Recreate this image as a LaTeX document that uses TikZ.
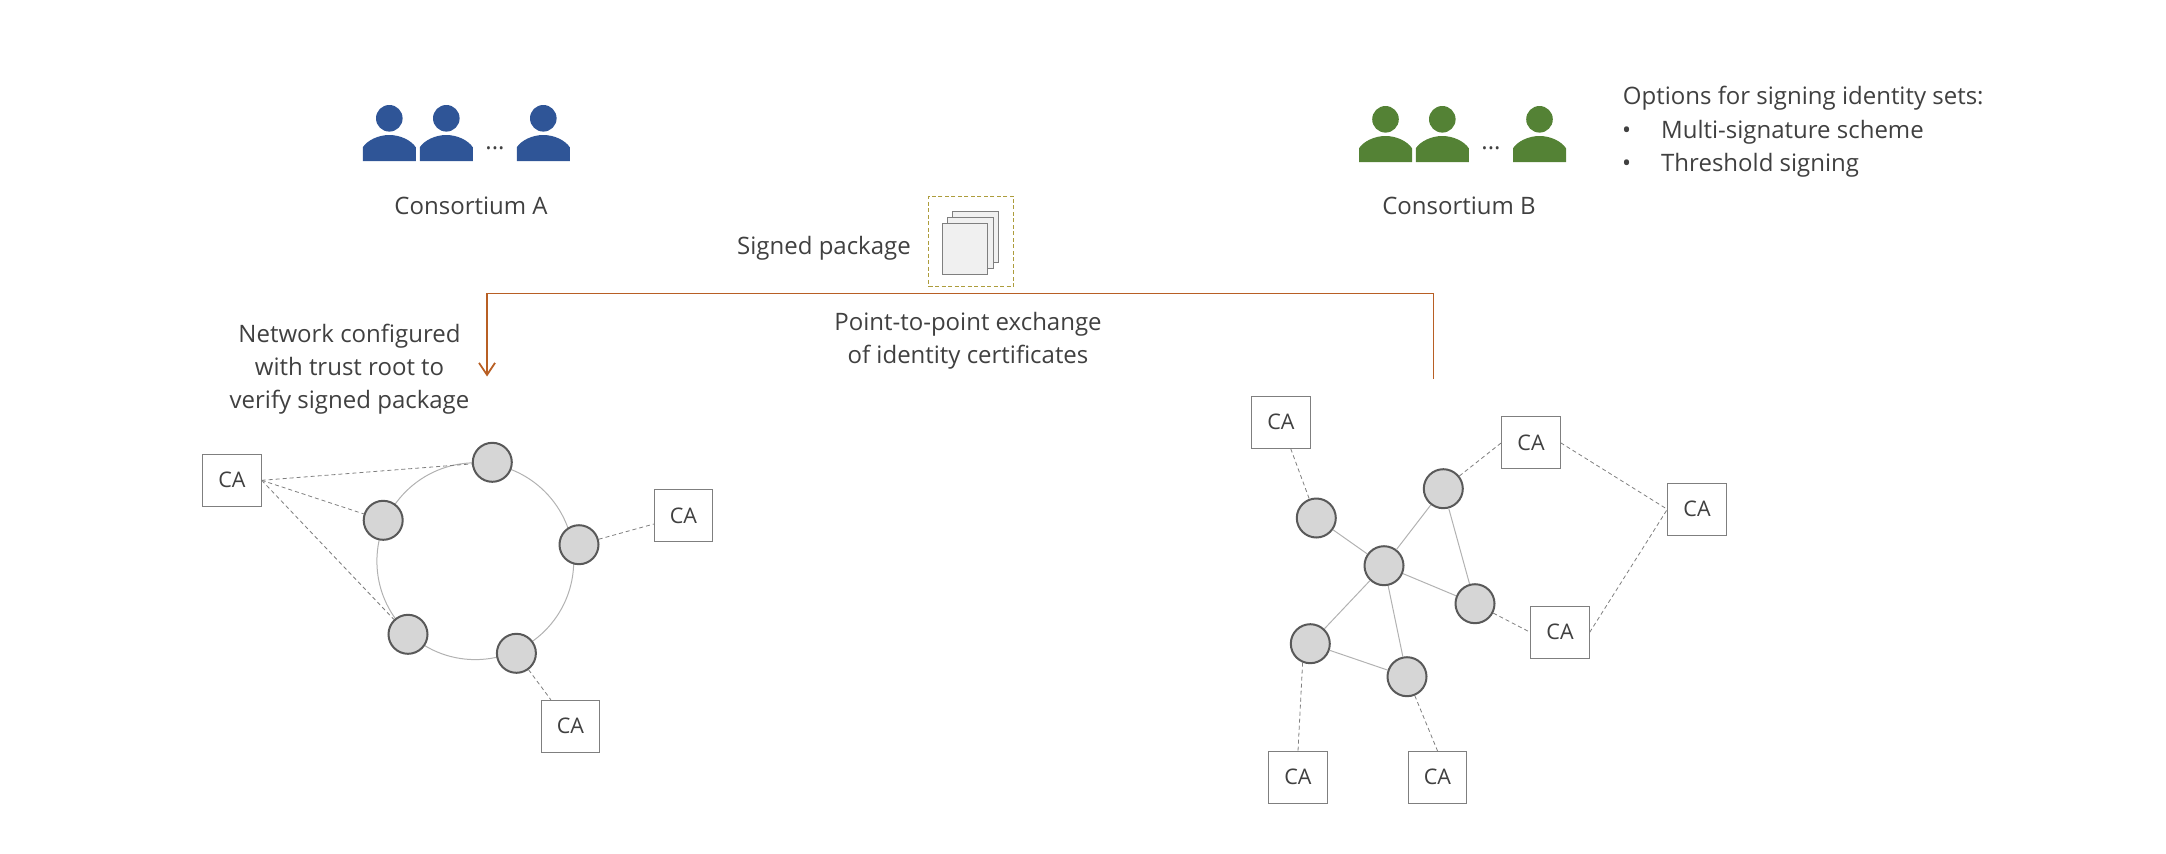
\documentclass[tikz,border=0pt]{standalone}
\usepackage{fontspec}
\usetikzlibrary{arrows.meta}
\setmainfont{Open Sans}
\definecolor{bluep}{HTML}{2F5597}
\definecolor{greenp}{HTML}{548235}
\definecolor{txt}{HTML}{404040}
\definecolor{arrowc}{HTML}{B85F24}
\definecolor{boxc}{HTML}{7F7F7F}
\definecolor{dashc}{HTML}{AD9C3C}
\tikzset{x=1pt,y=-1pt,
 lab/.style={text=txt,font=\fontsize{24}{33}\selectfont,align=center,inner sep=0pt},
 ca/.style={draw=boxc,fill=white,line width=.9pt,minimum width=58.5pt,minimum height=52pt,inner sep=0pt,text=txt,font=\fontsize{21.5}{24}\selectfont},
 peer/.style={circle,draw=black!65,fill=black!16,line width=2pt,minimum size=39pt,inner sep=0pt},
 solidl/.style={draw=black!30,line width=1pt},
 dashl/.style={draw=boxc,line width=.8pt,dash pattern=on 4pt off 3pt},
 paper/.style={draw=boxc,fill=black!6,line width=.9pt}}
\newcommand{\person}[3]{\fill[#3] (#1,#2) circle (13.3);
 \fill[#3] (#1-26.5,#2+42.7) -- (#1-26.5,#2+29) .. controls (#1-22,#2+22) and (#1-11,#2+16.7) .. (#1,#2+16.7) .. controls (#1+11,#2+16.7) and (#1+22,#2+22) .. (#1+26.5,#2+29) -- (#1+26.5,#2+42.7) -- cycle;}
\begin{document}
\begin{tikzpicture}
\useasboundingbox (0,0) rectangle (2166,854);
\person{389.3}{118.3}{bluep}\person{446.3}{118.3}{bluep}\person{543.3}{118.3}{bluep}
\person{1385.5}{119.3}{greenp}\person{1442.3}{119.3}{greenp}\person{1539.5}{119.3}{greenp}
\node[lab] (dotsa) at (495,148) {...};
\node[lab] (dotsb) at (1491,148) {...};
\node[lab] (cona) at (471,205.5) {Consortium A};
\node[lab] (conb) at (1459,205.5) {Consortium B};
\node[lab,anchor=base west] (opt) at (1622.7,104) {Options for signing identity sets:};
\node[lab,anchor=base west] (b1) at (1622,138) {•};
\node[lab,anchor=base west] (o1) at (1661,138) {Multi-signature scheme};
\node[lab,anchor=base west] (b2) at (1622,171) {•};
\node[lab,anchor=base west] (o2) at (1661,171) {Threshold signing};
\node[lab] (sp) at (824,248) {Signed package};
\node[draw=dashc,dash pattern=on 4pt off 2.5pt,minimum width=85pt,minimum height=90.7pt,line width=.9pt] (pk) at (971.2,241.3) {};
\node[paper,minimum width=45.4pt,minimum height=51pt] (p3) at (975.3,236.8) {};
\node[paper,minimum width=45.4pt,minimum height=51pt] (p2) at (970.3,242.8) {};
\node[paper,minimum width=45.4pt,minimum height=51pt] (p1) at (965,248.8) {};
\node[lab] (pe) at (968,341) {Point-to-point exchange\\of identity certificates};
\node[lab] (net) at (349.5,369.5) {Network configured\\with trust root to\\verify signed package};
\coordinate (as) at (1433.5,379);
\coordinate (ac) at (1433.5,293.5);
\coordinate (ad) at (487,293.5);
\coordinate (ae) at (487,376.5);
\draw[arrowc,line width=1.8pt,-{Straight Barb[length=12pt,width=16pt]}] (as) -- (ac) -- (ad) -- (ae);
% left ring
\coordinate (ringc) at (475.3,561.2);
\draw[solidl] (ringc) circle (98.4);
\node[peer] (a1) at (492.3,462.3) {};
\node[peer] (a2) at (383.2,520.3) {};
\node[peer] (a3) at (579,544.7) {};
\node[peer] (a4) at (408,634.3) {};
\node[peer] (a5) at (516.4,653.3) {};
\node[ca] (ca1) at (232,480.3) {CA};
\node[ca] (ca2) at (683.5,515.8) {CA};
\node[ca] (ca3) at (570.5,726.3) {CA};
\draw[dashl] (ca1.east) -- (a1);
\draw[dashl] (ca1.east) -- (a2);
\draw[dashl] (ca1.east) -- (a4);
\draw[dashl] (a3) -- (ca2);
\draw[dashl] (a5) -- (ca3);
% right mesh
\node[peer] (b1n) at (1316.3,518) {};
\node[peer] (b2n) at (1443.3,488.7) {};
\node[peer] (b3n) at (1384,565.7) {};
\node[peer] (b4n) at (1475,603.7) {};
\node[peer] (b5n) at (1310.3,643.7) {};
\node[peer] (b6n) at (1407,676.7) {};
\draw[solidl] (b1n) -- (b3n);
\draw[solidl] (b2n) -- (b3n);
\draw[solidl] (b2n) -- (b4n);
\draw[solidl] (b3n) -- (b4n);
\draw[solidl] (b3n) -- (b5n);
\draw[solidl] (b3n) -- (b6n);
\draw[solidl] (b5n) -- (b6n);
\node[ca] (cb1) at (1281,422.3) {CA};
\node[ca] (cb2) at (1531,442.8) {CA};
\node[ca] (cb3) at (1697,509.3) {CA};
\node[ca] (cb4) at (1560,632.3) {CA};
\node[ca] (cb5) at (1298,777.3) {CA};
\node[ca] (cb6) at (1437.5,777.3) {CA};
\draw[dashl] (cb1) -- (b1n);
\draw[dashl] (b2n) -- (cb2.west);
\draw[dashl] (b4n) -- (cb4.west);
\draw[dashl] (b5n.-112) -- (cb5.north);
\draw[dashl] (b6n) -- (cb6.north);
\draw[dashl] (cb2.east) -- (cb3.west);
\draw[dashl] (cb4.east) -- (cb3.west);
\end{tikzpicture}
\end{document}
